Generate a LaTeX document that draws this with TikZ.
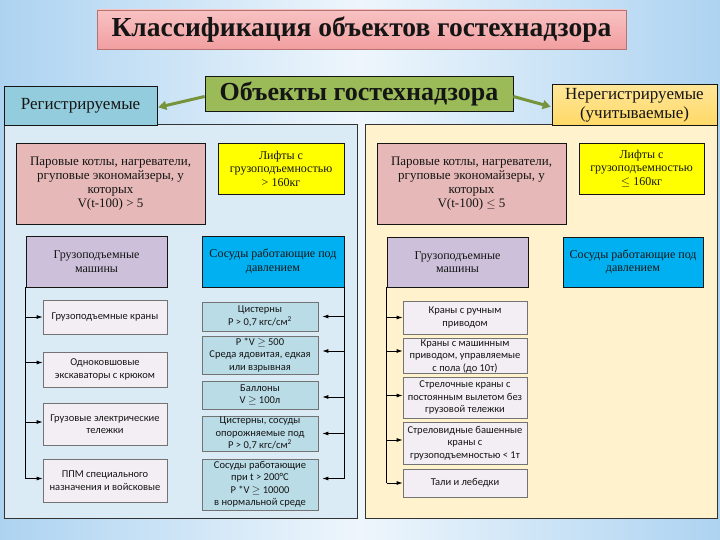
\documentclass[tikz,border=0pt]{standalone}
\usepackage{fontspec}
\setmainfont{Liberation Serif}
\setsansfont{Carlito}
\usetikzlibrary{arrows.meta}
\definecolor{ink}{HTML}{151515}
\definecolor{bgside}{HTML}{ADD3F1}
\definecolor{bgmid}{HTML}{EEF6FC}
\definecolor{titlered}{HTML}{F29EA0}
\definecolor{titletop}{HTML}{F8C2C2}
\definecolor{titleedge}{HTML}{B77272}
\definecolor{objgreen}{HTML}{9BBB59}
\definecolor{arrowgreen}{HTML}{77933C}
\definecolor{regblue}{HTML}{93CDDD}
\definecolor{nreggold}{HTML}{FFD966}
\definecolor{nregtop}{HTML}{FFE699}
\definecolor{panelblue}{HTML}{DAEBF5}
\definecolor{panelcream}{HTML}{FFF2CC}
\definecolor{boilerpink}{HTML}{E6B9B8}
\definecolor{liftyellow}{HTML}{FFFF00}
\definecolor{cranelav}{HTML}{CCC0DA}
\definecolor{vesselcyan}{HTML}{00B0F0}
\definecolor{itempink}{HTML}{F3EEF3}
\definecolor{itemblue}{HTML}{B9DCE7}

\begin{document}
\begin{tikzpicture}[x=1pt,y=-1pt,>=Latex,text=ink,
  box/.style={draw=ink,line width=.7pt,align=center,inner sep=1pt},
  head/.style={box,font=\fontsize{12}{13.5}\selectfont},
  item/.style={box,draw=black!55,font=\sffamily\fontsize{10.5}{12.5}\selectfont},
  panel/.style={draw=black!80,line width=.9pt},
  feed/.style={->,line width=.8pt,>={Latex[length=6pt,width=4pt]}},
  trunk/.style={line width=.8pt},
  bigarrow/.style={->,line width=3pt,draw=arrowgreen,>={Triangle[length=8pt,width=9pt]},shorten >=1pt}]
  \fill[left color=bgside,right color=bgside,middle color=bgmid] (0,0) rectangle (720,540);
  \node[box,draw=titleedge,top color=titletop,bottom color=titlered,minimum width=529pt,minimum height=39pt,
    font=\bfseries\fontsize{27.5}{30}\selectfont] (title) at (361.5,29.5) {Классификация объектов гостехнадзора};
  \node[panel,fill=panelblue,minimum width=353pt,minimum height=394pt] (pL) at (180.5,321) {};
  \node[panel,fill=panelcream,minimum width=352pt,minimum height=394pt] (pR) at (541,321) {};
  \node[box,fill=objgreen,minimum width=308pt,minimum height=35pt,
    font=\bfseries\fontsize{26}{28}\selectfont] (obj) at (359,93.5) {Объекты гостехнадзора};
  \node[box,fill=regblue,minimum width=153pt,minimum height=39pt,font=\fontsize{17}{19}\selectfont] (reg) at (80.5,105.5) {Регистрируемые};
  \node[box,top color=nregtop,bottom color=nreggold,minimum width=165pt,minimum height=41pt,
    font=\fontsize{17}{19}\selectfont] (nreg) at (634.5,105) {Нерегистрируемые\\(учитываемые)};
  \draw[bigarrow] ([yshift=-3pt]obj.west) -- ([yshift=-2pt]reg.east);
  \draw[bigarrow] ([yshift=-3pt]obj.east) -- ([yshift=-2pt]nreg.west);

  % registered
  \node[head,font=\fontsize{13}{14}\selectfont,fill=boilerpink,minimum width=189pt,minimum height=81pt] (boilL) at (110.5,183.5)
    {Паровые котлы, нагреватели,\\ргуповые экономайзеры, у\\которых\\V(t-100) > 5};
  \node[head,fill=liftyellow,minimum width=126pt,minimum height=51pt] (liftL) at (281,168.5)
    {Лифты с\\грузоподъемностью\\> 160кг};
  \node[head,fill=cranelav,minimum width=141pt,minimum height=51pt] (craneL) at (96.5,261.5)
    {Грузоподъемные\\машины};
  \node[head,fill=vesselcyan,minimum width=142pt,minimum height=51pt] (vessL) at (273,261.5)
    {Сосуды работающие под\\давлением};
  \node[item,fill=itempink,minimum width=124pt,minimum height=34pt] (mL1) at (105,317) {Грузоподъемные краны};
  \node[item,fill=itempink,minimum width=124pt,minimum height=35pt] (mL2) at (105,369.5) {Одноковшовые\\экскаваторы с крюком};
  \node[item,fill=itempink,minimum width=124pt,minimum height=42pt] (mL3) at (105,424) {Грузовые электрические\\тележки};
  \node[item,fill=itempink,minimum width=124pt,minimum height=43pt] (mL4) at (105,480.5) {ППМ специального\\назначения и войсковые};
  \node[item,fill=itemblue,minimum width=116pt,minimum height=29pt] (vL1) at (260,316.5) {Цистерны\\P > 0,7 кгс/см\textsuperscript{2}};
  \node[item,fill=itemblue,minimum width=116pt,minimum height=38pt] (vL2) at (260,355) {P *V $\geq$ 500\\Среда ядовитая, едкая\\или взрывная};
  \node[item,fill=itemblue,minimum width=116pt,minimum height=28pt] (vL3) at (260,395) {Баллоны\\V $\geq$ 100л};
  \node[item,fill=itemblue,minimum width=116pt,minimum height=35pt] (vL4) at (260,433.5) {Цистерны, сосуды\\опорожняемые под\\P > 0,7 кгс/см\textsuperscript{2}};
  \node[item,fill=itemblue,minimum width=116pt,minimum height=51pt] (vL5) at (260,484.5) {Сосуды работающие\\при t > 200°C\\P *V $\geq$ 10000\\в нормальной среде};
  \foreach \b/\s in {mL1/0,mL2/7,mL3/2,mL4/2}{
    \coordinate (e\b) at ([yshift=\s pt]\b.west);
    \draw[feed] (craneL.south west |- e\b) -- (e\b);
  }
  \draw[trunk] (craneL.south west) -- (craneL.south west |- emL4);
  \foreach \b/\s in {vL1/0,vL2/4,vL3/-2,vL4/0,vL5/6}{
    \coordinate (e\b) at ([yshift=\s pt]\b.east);
    \draw[feed,shorten >=4pt] (vessL.south east |- e\b) -- (e\b);
  }
  \draw[trunk] (vessL.south east) -- (vessL.south east |- evL5);

  % not registered
  \node[head,font=\fontsize{13}{14}\selectfont,fill=boilerpink,minimum width=189pt,minimum height=81pt] (boilR) at (471.5,183.5)
    {Паровые котлы, нагреватели,\\ргуповые экономайзеры, у\\которых\\V(t-100) $\leq$ 5};
  \node[head,fill=liftyellow,minimum width=125pt,minimum height=51pt] (liftR) at (641.5,168.5)
    {Лифты с\\грузоподъемностью\\$\leq$ 160кг};
  \node[head,fill=cranelav,minimum width=141pt,minimum height=50pt] (craneR) at (457.5,262)
    {Грузоподъемные\\машины};
  \node[head,fill=vesselcyan,minimum width=140pt,minimum height=50pt] (vessR) at (633,262)
    {Сосуды работающие под\\давлением};
  \node[item,fill=itempink,minimum width=124pt,minimum height=33pt] (mR1) at (465,317.5) {Краны с ручным\\приводом};
  \node[item,fill=itempink,minimum width=124pt,minimum height=34pt] (mR2) at (465,356) {Краны с машинным\\приводом, управляемые\\с пола (до 10т)};
  \node[item,fill=itempink,minimum width=124pt,minimum height=41pt] (mR3) at (465,397.5) {Стрелочные краны с\\постоянным вылетом без\\грузовой тележки};
  \node[item,fill=itempink,minimum width=124pt,minimum height=42pt] (mR4) at (465,443) {Стреловидные башенные\\краны с\\грузоподъемностью < 1т};
  \node[item,fill=itempink,minimum width=124pt,minimum height=28pt] (mR5) at (465,483) {Тали и лебедки};
  \foreach \b/\s in {mR1/0,mR2/5,mR3/2,mR4/3,mR5/0}{
    \coordinate (e\b) at ([yshift=\s pt]\b.west);
    \draw[feed] (craneR.south west |- e\b) -- (e\b);
  }
  \draw[trunk] (craneR.south west) -- (craneR.south west |- emR5);
\end{tikzpicture}
\end{document}
